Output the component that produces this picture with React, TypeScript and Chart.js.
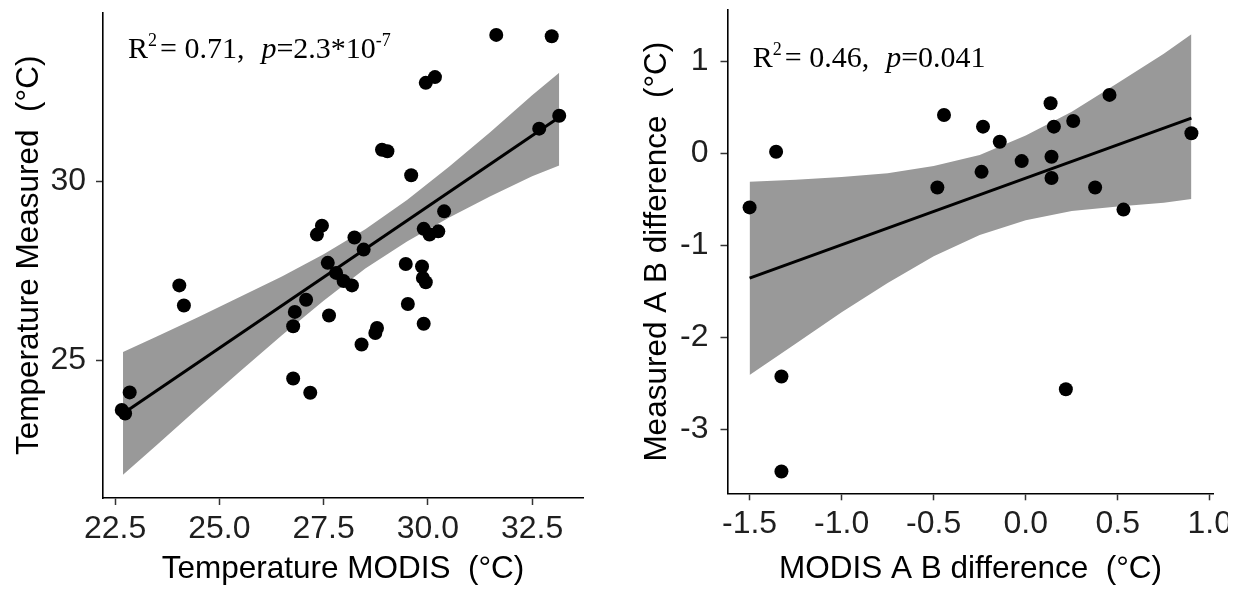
import React, { useEffect, useRef } from "react";
import { Chart, registerables } from "chart.js";

Chart.register(...registerables);

// ---------- Left panel: Temperature MODIS vs Measured ----------
const modisTemp = [
  31.64, 32.97, 29.95, 30.17, 28.9, 29.03, 29.6, 33.15, 32.67, 30.39,
  29.9, 30.04, 30.25, 27.34, 27.46, 28.24, 28.46, 27.6, 27.8, 27.98,
  28.18, 29.47, 29.86, 29.88, 29.95, 24.04, 24.15, 27.08, 26.81, 26.77,
  27.63, 29.52, 29.9, 28.78, 28.74, 28.41, 26.77, 27.18, 22.85, 22.66, 22.74,
];
const measuredTemp = [
  34.1, 34.06, 32.76, 32.92, 30.89, 30.85, 30.18, 31.84, 31.48, 29.17,
  28.68, 28.52, 28.61, 28.52, 28.77, 28.44, 28.1, 27.73, 27.45, 27.22,
  27.1, 27.7, 27.63, 27.31, 27.19, 27.1, 26.54, 26.7, 26.36, 25.96,
  26.26, 26.58, 26.03, 25.91, 25.77, 25.45, 24.5, 24.1, 24.11, 23.62, 23.52,
];
const tempFitX = [22.69, 33.15];
const tempFitY = [23.52, 31.8];
const tempBandX = [22.69, 23.5, 24.5, 25.5, 26.5, 27.5, 28.5, 29.5, 30.5, 31.5, 32.5, 33.15];
const tempBandUpper = [25.24, 25.67, 26.22, 26.78, 27.35, 27.97, 28.67, 29.49, 30.41, 31.39, 32.41, 33.04];
const tempBandLower = [21.81, 22.64, 23.68, 24.7, 25.71, 26.67, 27.57, 28.33, 28.99, 29.59, 30.15, 30.45];
const tempXTicks = [22.5, 25, 27.5, 30, 32.5];
const tempYTicks = [25, 30];

// ---------- Right panel: A B differences ----------
const modisDiff = [
  -1.5, -1.356, -0.444, -0.48, -0.232, -0.24, -0.141, -0.022, 0.135, 0.153,
  0.14, 0.14, 0.258, 0.455, 0.377, 0.531, 0.9, -1.327, -1.327, 0.218,
];
const measuredDiff = [
  -0.59, 0.014, 0.414, -0.374, 0.287, -0.204, 0.123, -0.087, 0.542, 0.287,
  -0.04, -0.27, 0.349, 0.632, -0.374, -0.614, 0.215, -2.426, -3.458, -2.565,
];
const diffFitX = [-1.5, 0.9];
const diffFitY = [-1.358, 0.38];
const diffBandX = [-1.5, -1.25, -1.0, -0.75, -0.5, -0.25, 0, 0.25, 0.5, 0.75, 0.9];
const diffBandUpper = [-0.31, -0.29, -0.26, -0.22, -0.14, -0.02, 0.19, 0.45, 0.76, 1.08, 1.29];
const diffBandLower = [-2.41, -2.07, -1.73, -1.41, -1.12, -0.89, -0.73, -0.63, -0.58, -0.54, -0.5];
const diffXTicks = [-1.5, -1.0, -0.5, 0, 0.5, 1.0];
const diffYTicks = [-3, -2, -1, 0, 1];

const SANS = '"Liberation Sans", Arial, sans-serif';
const SERIF = '"Liberation Serif", "Times New Roman", serif';

type Part = { t: string; font: string; dy?: number; dx?: number };

const r2Plugin = {
  id: "r2label",
  afterDatasetsDraw(chart: any, _args: any, opts: any) {
    const ctx = chart.ctx as CanvasRenderingContext2D;
    const parts: Part[] = opts.parts || [];
    let x: number = opts.x;
    const y: number = opts.y;
    ctx.save();
    ctx.fillStyle = "#000";
    ctx.textAlign = "left";
    ctx.textBaseline = "alphabetic";
    for (const p of parts) {
      ctx.font = p.font;
      x += p.dx || 0;
      ctx.fillText(p.t, x, y + (p.dy || 0));
      x += ctx.measureText(p.t).width;
    }
    ctx.restore();
  },
};

type PanelProps = {
  left: number;
  clipWidth: number;
  canvasWidth: number;
  xs: number[];
  ys: number[];
  fitX: number[];
  fitY: number[];
  bandX: number[];
  bandUpper: number[];
  bandLower: number[];
  xTicks: number[];
  yTicks: number[];
  xMin: number;
  xMax: number;
  yMin: number;
  yMax: number;
  xDecimals: number;
  xTitle: string;
  yTitle: string;
  areaLeft: number;
  areaRight: number;
  areaTop: number;
  areaBottom: number;
  yTickPad: number;
  yTitlePad: number;
  labelX: number;
  labelY: number;
  parts: Part[];
};

function Panel(p: PanelProps) {
  const ref = useRef<HTMLCanvasElement>(null);
  useEffect(() => {
    const H = 594;
    const pts = p.xs.map((x, i) => ({ x, y: p.ys[i] }));
    const fit = p.fitX.map((x, i) => ({ x, y: p.fitY[i] }));
    const up = p.bandX.map((x, i) => ({ x, y: p.bandUpper[i] }));
    const lo = p.bandX.map((x, i) => ({ x, y: p.bandLower[i] }));
    const tickFont = { family: SANS, size: 32 };
    const titleFont = { family: SANS, size: 31.5 };
    const tickColor = "#1f1f1f";
    const chart = new Chart(ref.current as HTMLCanvasElement, {
      type: "scatter",
      data: {
        datasets: [
          {
            type: "scatter",
            data: pts,
            pointRadius: 7,
            pointHoverRadius: 7,
            backgroundColor: "#000",
            borderWidth: 0,
            order: 0,
          } as any,
          {
            type: "line",
            data: fit,
            borderColor: "#000",
            borderWidth: 3,
            pointRadius: 0,
            fill: false,
            tension: 0,
            order: 1,
          } as any,
          {
            type: "line",
            data: up,
            borderColor: "rgba(0,0,0,0)",
            borderWidth: 0,
            backgroundColor: "#999999",
            pointRadius: 0,
            fill: "+1",
            tension: 0,
            order: 2,
          } as any,
          {
            type: "line",
            data: lo,
            borderColor: "rgba(0,0,0,0)",
            borderWidth: 0,
            pointRadius: 0,
            fill: false,
            tension: 0,
            order: 3,
          } as any,
        ],
      },
      options: {
        responsive: false,
        animation: false,
        events: [],
        layout: {
          padding: {
            top: p.areaTop,
            right: p.canvasWidth - p.areaRight,
            left: 0,
            bottom: 0,
          },
        },
        plugins: {
          legend: { display: false },
          tooltip: { enabled: false },
          r2label: { x: p.labelX, y: p.labelY, parts: p.parts },
        } as any,
        scales: {
          x: {
            type: "linear",
            min: p.xMin,
            max: p.xMax,
            afterBuildTicks: (s: any) => {
              s.ticks = p.xTicks.map((v) => ({ value: v }));
            },
            afterFit: (s: any) => {
              s.height = H - p.areaBottom;
              s.paddingLeft = 0;
              s.paddingRight = 0;
              s.paddingTop = 0;
              s.paddingBottom = 0;
            },
            ticks: {
              autoSkip: false,
              maxRotation: 0,
              padding: 5,
              color: tickColor,
              font: tickFont,
              callback: (v: any) => Number(v).toFixed(p.xDecimals),
            },
            grid: {
              display: true,
              drawOnChartArea: false,
              drawTicks: true,
              tickLength: 7,
              tickWidth: 1.5,
              tickColor: "#333",
            },
            border: { display: true, color: "#000", width: 1.6 },
            title: {
              display: true,
              text: p.xTitle,
              color: "#000",
              font: titleFont,
              padding: { top: 0, bottom: 6 },
            },
          },
          y: {
            type: "linear",
            min: p.yMin,
            max: p.yMax,
            afterBuildTicks: (s: any) => {
              s.ticks = p.yTicks.map((v) => ({ value: v }));
            },
            afterFit: (s: any) => {
              s.width = p.areaLeft;
              s.paddingLeft = 0;
              s.paddingRight = 0;
              s.paddingTop = 0;
              s.paddingBottom = 0;
            },
            ticks: {
              autoSkip: false,
              padding: p.yTickPad,
              color: tickColor,
              font: tickFont,
              callback: (v: any) => String(Number(v)),
            },
            grid: {
              display: true,
              drawOnChartArea: false,
              drawTicks: true,
              tickLength: 7,
              tickWidth: 1.5,
              tickColor: "#333",
            },
            border: { display: true, color: "#000", width: 1.6 },
            title: {
              display: true,
              text: p.yTitle,
              color: "#000",
              font: titleFont,
              padding: { top: p.yTitlePad, bottom: 0 },
            },
          },
        },
      } as any,
      plugins: [r2Plugin as any],
    });
    return () => chart.destroy();
  }, []);
  return (
    <div
      style={{
        position: "absolute",
        left: p.left,
        top: 0,
        width: p.clipWidth,
        height: 594,
        overflow: "hidden",
      }}
    >
      <canvas
        ref={ref}
        width={p.canvasWidth}
        height={594}
        style={{ display: "block", width: p.canvasWidth, height: 594 }}
      />
    </div>
  );
}

const big = `30px ${SERIF}`;
const small = `18px ${SERIF}`;
const ital = `italic 30px ${SERIF}`;

export default function App() {
  return (
    <div
      style={{
        position: "fixed",
        left: 0,
        top: 0,
        width: 1246,
        height: 594,
        background: "#fff",
        overflow: "hidden",
      }}
    >
      <Panel
        left={0}
        clipWidth={623}
        canvasWidth={623}
        xs={modisTemp}
        ys={measuredTemp}
        fitX={tempFitX}
        fitY={tempFitY}
        bandX={tempBandX}
        bandUpper={tempBandUpper}
        bandLower={tempBandLower}
        xTicks={tempXTicks}
        yTicks={tempYTicks}
        xMin={22.21}
        xMax={33.72}
        yMin={21.16}
        yMax={34.72}
        xDecimals={1}
        xTitle="Temperature MODIS  (°C)"
        yTitle="Temperature Measured  (°C)"
        areaLeft={103}
        areaRight={583}
        areaTop={12.7}
        areaBottom={498}
        yTickPad={10}
        yTitlePad={10}
        labelX={128}
        labelY={58}
        parts={[
          { t: "R", font: big },
          { t: "2", font: small, dy: -12 },
          { t: "= 0.71,  ", font: big, dx: 3 },
          { t: "p", font: ital, dx: 2 },
          { t: "=2.3*10", font: big },
          { t: "-7", font: small, dy: -12 },
        ]}
      />
      <Panel
        left={623}
        clipWidth={605}
        canvasWidth={640}
        xs={modisDiff}
        ys={measuredDiff}
        fitX={diffFitX}
        fitY={diffFitY}
        bandX={diffBandX}
        bandUpper={diffBandUpper}
        bandLower={diffBandLower}
        xTicks={diffXTicks}
        yTicks={diffYTicks}
        xMin={-1.62}
        xMax={1.02}
        yMin={-3.695}
        yMax={1.554}
        xDecimals={1}
        xTitle="MODIS A B difference  (°C)"
        yTitle="Measured A B difference  (°C)"
        areaLeft={104.5}
        areaRight={590.5}
        areaTop={10}
        areaBottom={493.3}
        yTickPad={12}
        yTitlePad={15}
        labelX={129.7}
        labelY={66.7}
        parts={[
          { t: "R", font: big },
          { t: "2", font: small, dy: -12 },
          { t: "= 0.46,  ", font: big, dx: 3 },
          { t: "p", font: ital, dx: 2 },
          { t: "=0.041", font: big },
        ]}
      />
    </div>
  );
}
